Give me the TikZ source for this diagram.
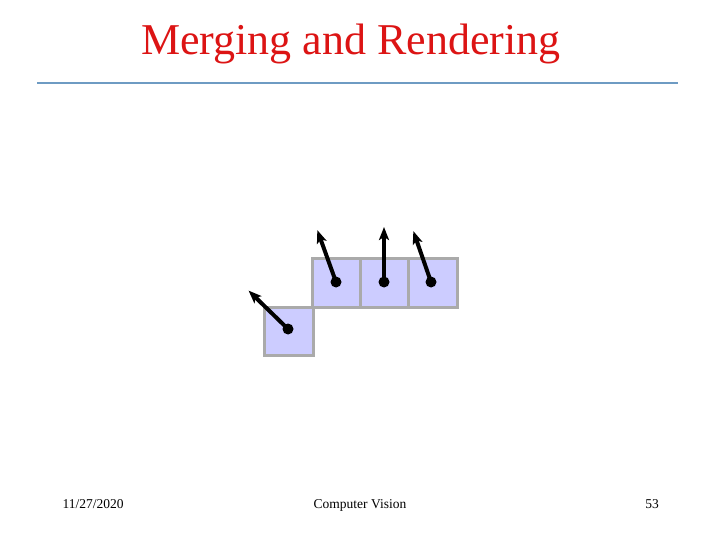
\documentclass[tikz,border=0pt]{standalone}
\usepackage{fontspec}
\setmainfont{Liberation Serif}
\usetikzlibrary{arrows.meta}
\definecolor{titlered}{RGB}{220,20,20}
\definecolor{rulecol}{RGB}{110,155,195}
\definecolor{cellfill}{RGB}{204,204,255}
\definecolor{cellline}{RGB}{170,170,170}
\begin{document}
\begin{tikzpicture}[x=1pt,y=-1pt,
  cell/.style={draw=cellline,line width=3pt,fill=cellfill},
  normal/.style={line width=4pt,-{Stealth[length=13pt,width=10pt,inset=3pt]},shorten >=-2pt},
  dot/.style={circle,fill=black,inner sep=0pt,minimum size=11pt},
  foot/.style={font=\fontsize{13.5}{16}\selectfont,inner sep=0pt}]
\useasboundingbox (0,0) rectangle (720,540);
\node[font=\fontsize{44}{50}\selectfont,text=titlered,anchor=base] (title) at (351,55) {Merging and Rendering};
\draw[rulecol,line width=1.8pt] (37,83) coordinate (r1) -- (678,83) coordinate (r2);
% cells
\draw[cell] (312,258) rectangle (360,307);
\draw[cell] (360,258) rectangle (408,307);
\draw[cell] (408,258) rectangle (457,307);
\draw[cell] (264,307) rectangle (313,355);
% dots
\node[dot] (d1) at (336,282) {};
\node[dot] (d2) at (384,282) {};
\node[dot] (d3) at (431,282) {};
\node[dot] (d4) at (288,329) {};
\coordinate (t1) at (318,232);
\coordinate (t2) at (384,229);
\coordinate (t3) at (414,233);
\coordinate (t4) at (250,292);
\draw[normal] (d1.center) -- (t1);
\draw[normal] (d2.center) -- (t2);
\draw[normal] (d3.center) -- (t3);
\draw[normal] (d4.center) -- (t4);
\node[foot,anchor=base] (date) at (93,508) {11/27/2020};
\node[foot,anchor=base] (course) at (360,508) {Computer Vision};
\node[foot,anchor=base] (page) at (652,508) {53};
\end{tikzpicture}
\end{document}
